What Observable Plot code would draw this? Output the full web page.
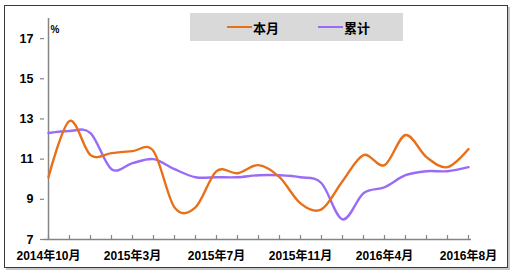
<!DOCTYPE html>
<html>
<head>
<meta charset="utf-8">
<script src="https://cdn.jsdelivr.net/npm/d3@7"></script>
<script src="https://cdn.jsdelivr.net/npm/@observablehq/plot@0.6"></script>
<style>
  html, body { margin: 0; padding: 0; background: #fff; }
  #wrap { position: relative; width: 512px; height: 277px; overflow: hidden; font-family: "Liberation Sans", Arial, "Noto Sans CJK SC", sans-serif; }
  #frame { position: absolute; left: 4px; top: 5px; width: 502px; height: 261px; border: 1px solid #3a3a3a; box-shadow: 2px 2px 0 #c8c8c8; pointer-events: none; }
  #legend { position: absolute; left: 190px; top: 13px; width: 213px; height: 28px; background: #d9d9d9; font-weight: bold; font-size: 13px; color: #000; font-family: "Noto Sans CJK SC", sans-serif; }
  .item { position: absolute; top: 0; height: 28px; display: flex; align-items: center; }
  .sw { display: inline-block; width: 25px; height: 2.5px; margin-right: 1px; }
  #chart { position: absolute; left: 0; top: 0; }
</style>
</head>
<body>
<div id="wrap">
  <div id="chart"></div>
  <div id="legend"></div>
  <div id="frame"></div>
</div>
<script>
const months = ["2014年10月","2014年11月","2014年12月","2015年2月","2015年3月","2015年4月","2015年5月","2015年6月","2015年7月","2015年8月","2015年9月","2015年10月","2015年11月","2015年12月","2016年2月","2016年3月","2016年4月","2016年5月","2016年6月","2016年7月","2016年8月"];
const thisMonth = [10.1, 12.9, 11.2, 11.3, 11.4, 11.4, 8.6, 8.6, 10.4, 10.3, 10.7, 10.1, 8.8, 8.5, 9.9, 11.2, 10.7, 12.2, 11.1, 10.6, 11.5];
const cumulative = [12.3, 12.4, 12.3, 10.5, 10.8, 11.0, 10.5, 10.1, 10.1, 10.1, 10.2, 10.2, 10.1, 9.8, 8.0, 9.3, 9.6, 10.2, 10.4, 10.4, 10.6];
const xLabels = ["2014年10月","2015年3月","2015年7月","2015年11月","2016年4月","2016年8月"];
const yTicks = [7, 9, 11, 13, 15, 17];
const seriesNames = ["本月", "累计"];
const seriesColors = ["#e8701a", "#9a6cf6"];

const axisColor = "#858585";
const chart = Plot.plot({
  width: 512,
  height: 277,
  marginLeft: 44,
  marginRight: 41,
  marginTop: 18,
  marginBottom: 38,
  x: {type: "point", domain: months, padding: 0},
  y: {domain: [7, 18]},
  style: {fontFamily: '"Liberation Sans", Arial, "Noto Sans CJK SC", sans-serif', fontSize: "12px", fontWeight: "bold", color: "#000", background: "transparent"},
  marks: [
    Plot.axisY({ticks: yTicks, tickSize: 4, tickPadding: 7, stroke: axisColor, strokeWidth: 1.2, label: null, fontSize: 12.5}),
    Plot.axisX({ticks: months, tickSize: -4, tickFormat: () => "", stroke: axisColor, strokeWidth: 1.2, label: null}),
    Plot.axisX({ticks: xLabels, tickSize: 0, tickPadding: 12, label: null, fontSize: 12}),
    Plot.ruleY([7], {stroke: axisColor, strokeWidth: 1.5}),
    Plot.ruleX([months[0]], {y1: 7, y2: 18, stroke: axisColor, strokeWidth: 1.5}),
    Plot.text(["%"], {frameAnchor: "top-left", dx: 6, dy: 7, textAnchor: "start", fontSize: 10, fontWeight: "bold"}),
    Plot.line(months, {x: d => d, y: (d, i) => cumulative[i], curve: "cardinal", tension: 0, stroke: seriesColors[1], strokeWidth: 2.4}),
    Plot.line(months, {x: d => d, y: (d, i) => thisMonth[i], curve: "cardinal", tension: 0, stroke: seriesColors[0], strokeWidth: 2.4})
  ]
});
document.getElementById("chart").appendChild(chart);

const legend = document.getElementById("legend");
const lefts = [37, 128];
seriesNames.forEach((name, i) => {
  const item = document.createElement("div");
  item.className = "item";
  item.style.left = lefts[i] + "px";
  const sw = document.createElement("span");
  sw.className = "sw";
  sw.style.background = seriesColors[i];
  item.appendChild(sw);
  item.appendChild(document.createTextNode(name));
  legend.appendChild(item);
});
</script>
</body>
</html>
